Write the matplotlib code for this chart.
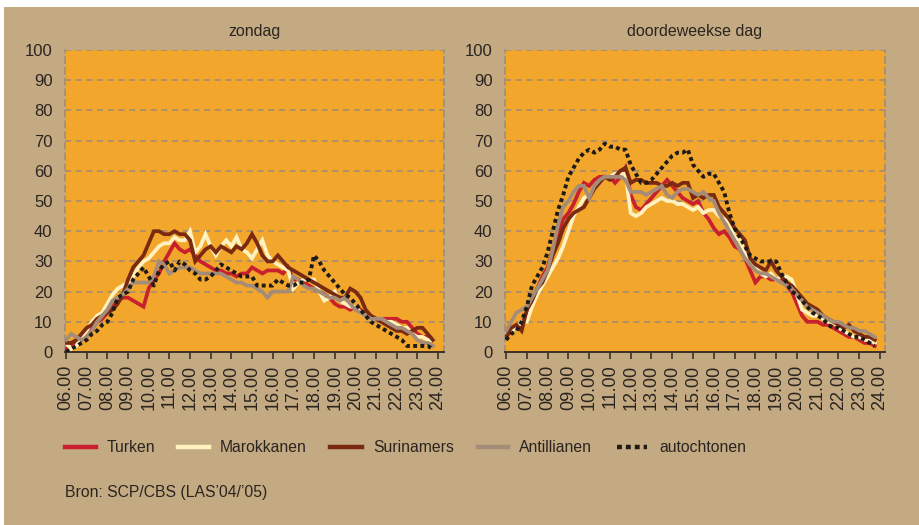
import matplotlib
matplotlib.use("Agg")
import matplotlib.pyplot as plt
from matplotlib.patches import Rectangle
from matplotlib.lines import Line2D
import numpy as np

plt.rcParams['font.family'] = ['Liberation Sans Narrow', 'Liberation Sans', 'DejaVu Sans']

# quarter-hour time points 06.00 .. 23.45
hours = [6 + 0.25 * i for i in range(72)]
tick_labels = ["06.00", "07.00", "08.00", "09.00", "10.00", "11.00", "12.00", "13.00", "14.00",
               "15.00", "16.00", "17.00", "18.00", "19.00", "20.00", "21.00", "22.00", "23.00", "24.00"]
panel_titles = ["zondag", "doordeweekse dag"]
groups = ["Turken", "Marokkanen", "Surinamers", "Antillianen", "autochtonen"]

# zondag
sun_turken = [1, 2, 3, 4, 6, 8, 10, 11, 13, 15, 17, 18, 18, 17, 16, 15,
              21, 24, 26, 30, 33, 36, 34, 33, 34, 32, 30, 29, 28, 27, 27, 26,
              26, 25, 26, 26, 28, 27, 26, 27, 27, 27, 26, 28, 24, 24, 23, 22,
              21, 20, 19, 18, 16, 15, 15, 14, 15, 14, 12, 12, 11, 11, 11, 11,
              11, 10, 10, 8, 6, 5, 5, 4]
sun_marokkanen = [3, 1, 2, 5, 7, 10, 12, 13, 16, 19, 21, 22, 23, 25, 28, 30,
                  31, 33, 35, 36, 36, 38, 37, 37, 40, 33, 35, 39, 35, 32, 35, 37,
                  35, 38, 34, 33, 31, 34, 37, 32, 30, 29, 28, 27, 21, 23, 24, 24,
                  24, 20, 17, 18, 20, 17, 16, 15, 15, 13, 12, 11, 11, 11, 10, 10,
                  9, 8, 8, 6, 5, 5, 4, 4]
sun_surinamers = [3, 3, 4, 6, 8, 9, 11, 12, 13, 14, 16, 19, 24, 28, 30, 32,
                  36, 40, 40, 39, 39, 40, 39, 39, 37, 30, 32, 34, 35, 33, 35, 34,
                  33, 35, 34, 36, 39, 36, 32, 30, 30, 32, 30, 28, 27, 26, 25, 24,
                  23, 22, 21, 20, 19, 18, 18, 21, 20, 18, 14, 12, 11, 10, 9, 8,
                  7, 7, 6, 7, 8, 8, 6, 4]
sun_antillianen = [4, 6, 5, 4, 5, 7, 10, 12, 14, 17, 18, 19, 21, 23, 23, 23,
                   23, 25, 30, 29, 26, 27, 28, 28, 28, 27, 26, 26, 26, 26, 26, 25,
                   24, 23, 23, 22, 22, 21, 20, 18, 20, 20, 20, 20, 25, 24, 22, 21,
                   21, 20, 19, 18, 18, 17, 18, 16, 14, 13, 12, 11, 11, 11, 10, 9,
                   8, 8, 7, 6, 4, 3, 3, 2]
sun_autochtonen = [0, 1, 2, 3, 4, 6, 7, 9, 10, 13, 18, 19, 20, 24, 26, 28,
                   25, 22, 27, 29, 30, 27, 30, 29, 27, 26, 24, 24, 25, 27, 29, 28,
                   27, 26, 25, 25, 25, 22, 22, 22, 22, 24, 23, 22, 22, 23, 23, 24,
                   32, 30, 27, 25, 23, 21, 19, 18, 16, 14, 12, 10, 9, 8, 7, 6,
                   5, 4, 2, 2, 2, 2, 2, 1]

# doordeweekse dag
wk_turken = [5, 7, 8, 9, 13, 16, 21, 25, 28, 34, 39, 44, 46, 49, 53, 56,
             55, 57, 58, 58, 58, 56, 58, 61, 52, 48, 47, 49, 51, 53, 55, 57,
             55, 53, 51, 50, 49, 50, 46, 44, 41, 39, 40, 38, 35, 34, 31, 27,
             23, 25, 25, 24, 24, 24, 22, 20, 16, 12, 10, 10, 10, 9, 9, 8,
             7, 6, 5, 5, 4, 3, 3, 2]
wk_marokkanen = [6, 7, 8, 10, 10, 15, 19, 22, 25, 28, 31, 35, 40, 45, 48, 51,
                 52, 54, 56, 58, 58, 59, 59, 59, 46, 45, 46, 48, 49, 50, 51, 50,
                 50, 49, 49, 48, 47, 48, 46, 47, 47, 45, 44, 43, 38, 37, 33, 29,
                 28, 26, 25, 26, 24, 25, 25, 24, 19, 14, 13, 12, 12, 11, 10, 10,
                 8, 7, 6, 5, 5, 4, 4, 3]
wk_surinamers = [5, 8, 9, 7, 14, 17, 21, 23, 27, 32, 36, 41, 44, 46, 47, 48,
                 51, 54, 56, 58, 57, 58, 60, 61, 56, 57, 57, 56, 56, 56, 55, 55,
                 56, 55, 56, 56, 51, 52, 51, 52, 52, 48, 46, 44, 41, 39, 37, 31,
                 29, 28, 27, 30, 27, 25, 23, 22, 20, 18, 16, 15, 14, 12, 11, 10,
                 9, 8, 9, 7, 6, 5, 5, 4]
wk_antillianen = [7, 10, 13, 14, 15, 18, 21, 24, 27, 34, 42, 48, 50, 53, 55, 55,
                  51, 55, 57, 58, 58, 58, 58, 57, 53, 53, 53, 52, 53, 54, 55, 52,
                  51, 53, 54, 54, 53, 52, 53, 51, 50, 46, 43, 40, 37, 34, 31, 29,
                  27, 26, 26, 25, 24, 23, 22, 21, 19, 17, 15, 14, 13, 12, 11, 10,
                  10, 9, 8, 8, 7, 7, 6, 5]
wk_autochtonen = [4, 6, 7, 10, 15, 22, 25, 28, 33, 40, 47, 52, 58, 61, 64, 66,
                  67, 66, 67, 69, 68, 68, 67, 67, 62, 59, 56, 56, 57, 59, 61, 63,
                  65, 66, 66, 67, 62, 60, 58, 59, 59, 56, 53, 46, 41, 38, 35, 32,
                  31, 30, 30, 30, 30, 26, 23, 20, 19, 17, 15, 13, 12, 11, 9, 8,
                  8, 7, 6, 5, 5, 4, 3, 2]

colors = ["#C8202C", "#FFF2C0", "#7A2A10", "#A48C78", "#1E1A16"]
BG = "#C4AA82"
ORANGE = "#F2A72C"
GRID = "#9E8A78"
TXT = "#2A2420"

W, H = 919, 525
fig = plt.figure(figsize=(W / 100, H / 100), dpi=100, facecolor="white")
fig.patches.append(Rectangle((4 / W, 0), 1, 1 - 7 / H, transform=fig.transFigure,
                             facecolor=BG, edgecolor="none", zorder=-10))

panels = [
    (65, 444, (5.95, 24.29), [sun_turken, sun_marokkanen, sun_surinamers, sun_antillianen, sun_autochtonen]),
    (505, 885, (5.95, 24.24), [wk_turken, wk_marokkanen, wk_surinamers, wk_antillianen, wk_autochtonen]),
]

for (x0, x1, xl, series), title in zip(panels, panel_titles):
    ax = fig.add_axes([x0 / W, 1 - 352 / H, (x1 - x0) / W, 302 / H])
    ax.set_facecolor(ORANGE)
    ax.set_xlim(*xl)
    ax.set_ylim(0, 100)
    for i, (vals, c) in enumerate(zip(series, colors)):
        if i == 4:
            ax.plot(hours, vals, color=c, lw=2.8, ls=(0, (1.0, 0.85)),
                    dash_capstyle="butt", zorder=5)
        else:
            ax.plot(hours, vals, color=c, lw=2.7, solid_joinstyle="miter", zorder=3 + i * 0.1)
    ax.set_yticks(range(0, 101, 10))
    ax.set_xticks(range(6, 25))
    ax.set_xticklabels(tick_labels, rotation=90)
    ax.tick_params(axis="y", length=0, pad=9, labelsize=12, labelcolor=TXT)
    ax.tick_params(axis="x", length=5, width=1.2, color="#3A3028", direction="out",
                   pad=4, labelsize=13, labelcolor=TXT)
    for yv in range(10, 101, 10):
        ax.axhline(yv, color=GRID, lw=1.1, ls=(0, (4, 3)), zorder=1)
    for side in ("left", "right"):
        ax.spines[side].set_color(GRID)
        ax.spines[side].set_linestyle((0, (4, 3)))
        ax.spines[side].set_linewidth(1.1)
    ax.spines["top"].set_visible(False)
    ax.spines["bottom"].set_color("#3A3028")
    ax.spines["bottom"].set_linewidth(1.4)
    ax.set_title(title, fontsize=11.5, color=TXT, pad=10)

# legend (manual placement in figure pixels)
legend_pos = [(65, 96, 107), (178, 209, 220), (330, 362, 373), (478, 508, 519), (617, 647, 659)]
ly = 1 - 447 / H
for (a, b, t), name, c, i in zip(legend_pos, groups, colors, range(5)):
    if i == 4:
        fig.add_artist(Line2D([a / W, b / W], [ly, ly], color=c, lw=3.2,
                              ls=(0, (1.1, 0.9)), dash_capstyle="butt"))
    else:
        fig.add_artist(Line2D([a / W, b / W], [ly, ly], color=c, lw=3.2))
    fig.text(t / W, ly, name, fontsize=11.3, color=TXT, va="center", ha="left")

fig.text(65 / W, 1 - 492 / H, "Bron: SCP/CBS (LAS\u201904/\u201905)", fontsize=11.3,
         color=TXT, va="center", ha="left")

fig.savefig("out.png", dpi=100, facecolor=fig.get_facecolor())
